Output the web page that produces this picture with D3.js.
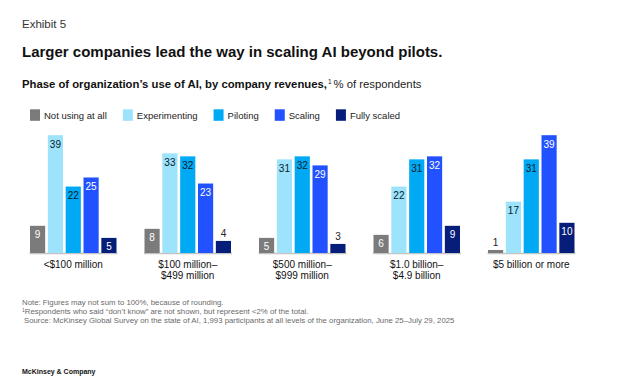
<!DOCTYPE html>
<html>
<head>
<meta charset="utf-8">
<script src="https://cdn.jsdelivr.net/npm/d3@7"></script>
<style>
  html, body { margin: 0; padding: 0; background: #fff; }
  svg { display: block; font-family: "Liberation Sans", Arial, Helvetica, sans-serif; }
</style>
</head>
<body>
<svg id="chart" width="629" height="391"></svg>
<script>
const categories = ["<$100 million", "$100 million–\n$499 million", "$500 million–\n$999 million", "$1.0 billion–\n$4.9 billion", "$5 billion or more"];
const seriesNames = ["Not using at all", "Experimenting", "Piloting", "Scaling", "Fully scaled"];
const notUsing = [9, 8, 5, 6, 1];
const experimenting = [39, 33, 31, 22, 17];
const piloting = [22, 32, 32, 31, 31];
const scaling = [25, 23, 29, 32, 39];
const fullyScaled = [5, 4, 3, 9, 10];
const colors = ["#7b7b7b", "#9de3fb", "#00a9f4", "#2251ff", "#061d7a"];
const labelColors = ["#ffffff", "#051c2c", "#051c2c", "#ffffff", "#ffffff"];

const seriesValues = [notUsing, experimenting, piloting, scaling, fullyScaled];

const svg = d3.select("#chart");

// Header
svg.append("text").attr("x", 22).attr("y", 27.5).attr("font-size", 11.5).attr("fill", "#333")
  .text("Exhibit 5");
svg.append("text").attr("x", 22).attr("y", 57).attr("font-size", 15).attr("font-weight", "bold").attr("fill", "#111")
  .text("Larger companies lead the way in scaling AI beyond pilots.");
const sub = svg.append("text").attr("x", 22).attr("y", 88).attr("font-size", 11.3).attr("fill", "#111");
sub.append("tspan").attr("font-weight", "bold").text("Phase of organization’s use of AI, by company revenues,");
sub.append("tspan").attr("font-size", 6.5).attr("dy", -4).attr("dx", 1).text("1");
sub.append("tspan").attr("dy", 4).attr("dx", 2).attr("fill", "#222").text("% of respondents");

// Legend
const legend = svg.append("g");
let lx = 30;
seriesNames.forEach((name, i) => {
  legend.append("rect").attr("x", lx).attr("y", 109.3).attr("width", 10).attr("height", 11.5).attr("fill", colors[i]);
  const t = legend.append("text").attr("x", lx + 14).attr("y", 118.5).attr("font-size", 9.5).attr("fill", "#222").text(name);
  lx = lx + 14 + t.node().getComputedTextLength() + 16;
});

// Scales
const x0 = d3.scaleBand().domain(categories).range([30, 574.5]).paddingInner(0.2445).paddingOuter(0);
const x1 = d3.scaleBand().domain(seriesNames).range([0, x0.bandwidth()]).paddingInner(0.15).paddingOuter(0);
const y = d3.scaleLinear().domain([0, 39]).range([253, 135.2]);

const groups = svg.append("g").selectAll("g").data(categories).join("g")
  .attr("transform", d => `translate(${x0(d)},0)`);

// baseline
groups.append("line")
  .attr("x1", -0.5).attr("x2", x0.bandwidth() + 1)
  .attr("y1", y(0) + 0.5).attr("y2", y(0) + 0.5)
  .attr("stroke", "#c4c4c4").attr("stroke-width", 1.5);

groups.each(function(cat, ci) {
  const g = d3.select(this);
  const rows = seriesNames.map((s, si) => ({ s, si, v: seriesValues[si][ci] }));
  g.selectAll("rect.bar").data(rows).join("rect").attr("class", "bar")
    .attr("x", d => x1(d.s)).attr("width", x1.bandwidth())
    .attr("y", d => y(d.v)).attr("height", d => y(0) - y(d.v))
    .attr("fill", d => colors[d.si]);
  g.selectAll("text.val").data(rows).join("text").attr("class", "val")
    .attr("x", d => x1(d.s) + x1.bandwidth() / 2)
    .attr("y", d => d.v >= 5 ? y(d.v) + 12.5 : y(d.v) - 4)
    .attr("text-anchor", "middle").attr("font-size", 10)
    .attr("fill", d => d.v >= 5 ? labelColors[d.si] : "#222")
    .text(d => d.v);
  // category labels
  const lines = cat.split("\n");
  const ct = g.append("text").attr("text-anchor", "middle").attr("font-size", 10).attr("fill", "#111");
  lines.forEach((ln, li) => {
    ct.append("tspan").attr("x", x0.bandwidth() / 2).attr("y", 268 + li * 11).text(ln);
  });
});

// Notes
const notes = svg.append("g").attr("font-size", 7.8).attr("fill", "#6a6a6a");
notes.append("text").attr("x", 22).attr("y", 305).text("Note: Figures may not sum to 100%, because of rounding.");
const n2 = notes.append("text").attr("x", 22).attr("y", 314);
n2.append("tspan").attr("font-size", 5).attr("dy", -2.5).text("1");
n2.append("tspan").attr("dy", 2.5).text("Respondents who said “don’t know” are not shown, but represent <2% of the total.");
notes.append("text").attr("x", 24).attr("y", 323)
  .text("Source: McKinsey Global Survey on the state of AI, 1,993 participants at all levels of the organization, June 25–July 29, 2025");

svg.append("text").attr("x", 22).attr("y", 374).attr("font-size", 7).attr("font-weight", "bold").attr("fill", "#111")
  .text("McKinsey & Company");
</script>
</body>
</html>
